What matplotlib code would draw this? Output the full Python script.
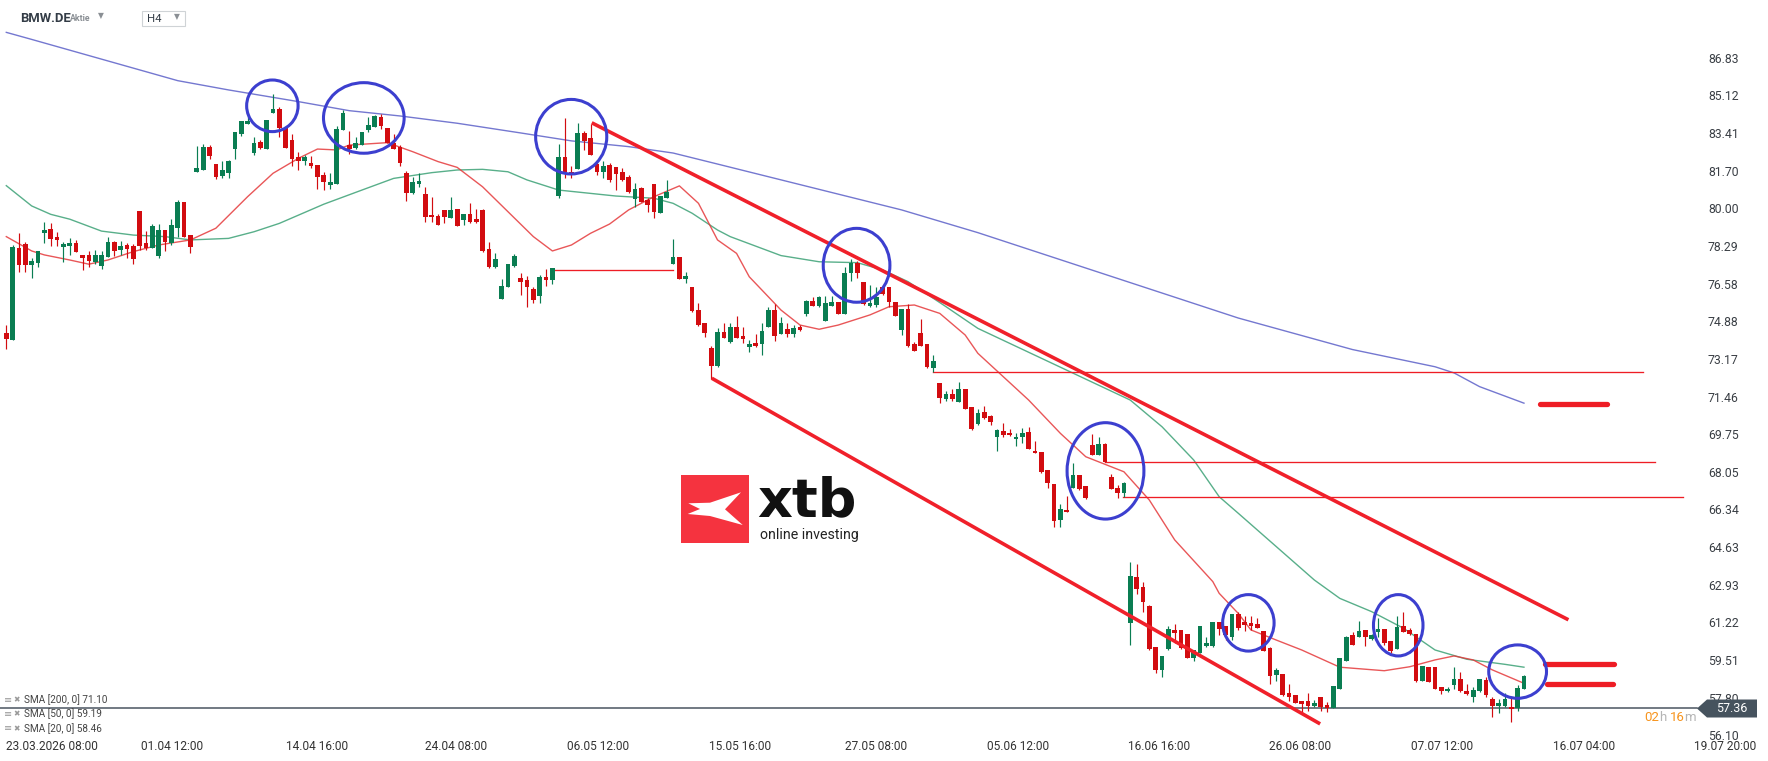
import matplotlib
matplotlib.use("Agg")
import matplotlib.pyplot as plt
from matplotlib.patches import Ellipse, Rectangle, Polygon
import numpy as np

W, H = 1768, 761

# ---------------- data ----------------
open_ = [74.33, 74.03, 78.21, 78.38, 77.43, 77.53, 78.89, 79.06, 78.71, 78.26,
         78.29, 78.42, 77.88, 77.88, 77.58, 77.40, 77.80, 78.47, 78.11, 78.33,
         78.29, 79.87, 78.42, 78.20, 77.85, 79.01, 78.44, 79.12, 80.28, 78.78,
         81.65, 81.73, 82.77, 82.00, 81.46, 81.61, 82.70, 83.38, 83.82, 82.52,
         83.00, 82.70, 84.33, 84.49, 83.63, 83.09, 82.32, 82.15, 82.05, 81.96,
         81.50, 81.07, 81.11, 83.54, 82.86, 82.74, 82.86, 83.54, 83.69, 84.13,
         83.63, 82.95, 82.77, 81.59, 80.67, 81.11, 80.64, 79.69, 79.64, 79.92,
         79.57, 79.96, 79.48, 79.74, 79.51, 79.92, 78.15, 77.35, 75.90, 76.44,
         77.39, 76.83, 76.74, 76.34, 76.03, 76.88, 76.76, 80.57, 82.32, 81.64,
         81.78, 83.41, 83.18, 82.00, 81.64, 81.96, 81.87, 81.64, 81.41, 80.42,
         80.91, 80.37, 81.10, 79.80, 80.46, 77.49, 77.80, 76.80, 76.43, 75.38,
         74.80, 73.68, 72.85, 74.39, 73.95, 74.63, 74.21, 73.72, 73.87, 73.84,
         74.63, 75.38, 74.30, 74.52, 74.31, 74.63, 75.19, 75.79, 75.58, 74.90,
         75.58, 75.75, 75.19, 77.05, 77.51, 76.65, 75.58, 75.61, 76.41, 76.43,
         75.75, 74.48, 75.41, 73.84, 74.34, 73.84, 72.77, 72.07, 71.37, 71.58,
         71.23, 71.80, 70.99, 70.22, 70.74, 70.58, 69.61, 69.88, 69.82, 69.52,
         69.61, 69.84, 68.99, 68.93, 68.13, 67.50, 65.86, 66.32, 67.30, 67.90,
         67.40, 69.26, 68.83, 69.31, 67.81, 67.31, 67.07, 61.21, 63.28, 62.81,
         61.97, 60.11, 59.05, 60.00, 60.88, 60.88, 60.70, 59.59, 59.85, 60.17,
         60.15, 61.24, 61.04, 60.58, 61.62, 61.26, 61.20, 61.15, 60.83, 60.05,
         58.85, 58.88, 58.04, 57.93, 57.66, 57.66, 57.43, 57.84, 57.48, 57.36,
         58.22, 59.49, 60.65, 60.58, 60.88, 60.47, 60.80, 60.92, 60.38, 60.03,
         61.06, 60.89, 60.70, 58.58, 59.22, 59.20, 58.27, 58.10, 58.39, 58.66,
         58.13, 57.83, 58.11, 58.61, 57.75, 57.45, 57.45, 57.37, 57.34, 58.19]
high = [74.71, 78.33, 78.86, 78.48, 77.73, 78.06, 79.39, 79.32, 78.91, 78.48,
        78.67, 78.56, 77.88, 78.06, 78.11, 78.06, 78.71, 78.52, 78.52, 78.41,
        78.38, 79.87, 78.97, 79.29, 79.29, 79.01, 79.51, 80.37, 80.30, 78.78,
        82.82, 82.91, 82.86, 82.00, 82.14, 82.18, 83.45, 83.95, 84.36, 83.23,
        83.09, 84.00, 85.18, 84.59, 83.63, 83.36, 82.55, 82.39, 82.36, 81.96,
        81.64, 81.59, 83.72, 84.45, 83.50, 83.23, 83.45, 84.13, 84.22, 84.27,
        83.63, 83.36, 82.86, 81.68, 81.41, 81.58, 80.97, 80.52, 79.73, 79.92,
        80.51, 79.96, 79.74, 80.23, 79.96, 79.96, 78.47, 77.97, 76.79, 77.49,
        77.94, 77.08, 76.92, 76.43, 76.97, 77.24, 77.29, 82.91, 84.09, 81.91,
        83.86, 83.50, 83.82, 82.18, 82.14, 82.05, 81.87, 81.82, 81.50, 81.14,
        80.96, 80.46, 81.10, 80.55, 81.28, 78.60, 77.80, 77.11, 76.43, 75.70,
        74.80, 73.77, 74.57, 74.78, 74.78, 75.11, 74.60, 74.02, 74.28, 74.78,
        75.52, 75.66, 75.05, 74.78, 74.70, 74.70, 75.84, 75.99, 76.02, 76.02,
        76.02, 75.75, 77.32, 77.70, 77.59, 76.65, 76.52, 76.43, 76.52, 76.43,
        75.75, 75.43, 75.64, 73.93, 74.98, 73.84, 73.34, 72.07, 71.71, 71.79,
        72.12, 71.80, 70.99, 70.90, 71.03, 70.62, 69.97, 70.25, 69.97, 69.79,
        70.03, 70.06, 69.43, 68.93, 68.13, 67.50, 66.57, 66.94, 68.43, 67.90,
        67.40, 69.76, 69.63, 69.37, 67.95, 67.44, 67.59, 63.95, 63.87, 63.05,
        62.00, 60.11, 59.70, 61.04, 61.13, 60.88, 60.70, 59.97, 61.06, 60.58,
        61.24, 61.24, 61.04, 61.62, 61.71, 61.51, 61.51, 61.41, 60.83, 60.12,
        59.14, 58.88, 58.45, 57.93, 57.66, 58.04, 57.70, 57.84, 57.62, 58.34,
        59.59, 60.61, 60.80, 61.30, 60.88, 60.70, 61.44, 60.92, 60.38, 61.51,
        61.69, 60.98, 60.70, 59.25, 59.22, 59.20, 58.27, 58.31, 59.19, 58.99,
        58.42, 58.27, 58.66, 58.76, 57.86, 57.74, 58.01, 57.86, 58.39, 58.85]
low = [73.63, 74.03, 77.12, 77.12, 76.85, 77.31, 78.44, 78.29, 78.29, 77.58,
       77.88, 78.03, 77.20, 77.31, 77.47, 77.26, 77.80, 77.84, 77.88, 77.76,
       77.47, 78.11, 78.11, 78.20, 77.76, 78.08, 78.33, 78.71, 78.70, 77.98,
       81.65, 81.73, 82.23, 81.34, 81.38, 81.38, 82.24, 83.29, 83.82, 82.42,
       82.70, 82.70, 84.33, 83.24, 82.74, 81.93, 81.75, 81.97, 81.82, 80.88,
       80.84, 80.88, 81.11, 83.54, 82.47, 82.70, 82.86, 83.45, 83.69, 83.59,
       82.95, 82.70, 81.93, 80.34, 80.63, 80.97, 79.39, 79.39, 79.25, 79.34,
       79.57, 79.21, 79.25, 79.34, 79.34, 78.03, 77.30, 77.30, 75.90, 76.44,
       77.35, 76.08, 75.54, 75.72, 75.72, 76.49, 76.58, 80.48, 81.38, 81.38,
       81.78, 82.64, 82.43, 81.50, 81.37, 81.19, 80.82, 81.23, 80.70, 80.07,
       80.28, 79.83, 79.57, 79.80, 80.46, 77.49, 76.80, 76.62, 75.31, 74.66,
       74.17, 72.27, 72.82, 74.13, 73.87, 74.10, 73.87, 73.50, 73.72, 73.36,
       74.63, 73.99, 74.30, 74.18, 74.14, 74.45, 75.11, 75.58, 75.53, 74.90,
       75.58, 75.20, 75.19, 76.70, 76.82, 75.61, 75.53, 75.53, 76.06, 75.53,
       75.13, 74.25, 73.72, 73.54, 73.77, 72.75, 72.59, 71.18, 71.28, 71.28,
       71.23, 70.90, 69.96, 70.17, 70.43, 70.17, 69.01, 69.61, 69.67, 69.23,
       69.34, 69.07, 68.89, 67.98, 67.33, 65.53, 65.56, 66.21, 67.30, 67.22,
       66.80, 68.80, 68.83, 68.51, 67.25, 66.88, 66.92, 60.20, 62.53, 61.71,
       59.97, 58.91, 58.76, 59.97, 60.27, 60.00, 59.59, 59.49, 59.82, 60.12,
       60.12, 60.65, 60.42, 60.42, 60.88, 60.85, 60.88, 60.98, 59.94, 58.42,
       58.58, 57.90, 57.66, 57.58, 57.13, 57.22, 57.40, 57.22, 57.18, 57.36,
       58.22, 59.49, 60.21, 60.58, 60.17, 60.42, 60.58, 60.20, 59.85, 60.03,
       60.80, 60.65, 58.54, 58.58, 58.54, 58.22, 57.98, 58.07, 58.22, 58.08,
       57.95, 57.63, 58.08, 57.86, 56.95, 57.13, 57.40, 56.72, 57.22, 58.19]
close = [74.06, 78.26, 77.43, 77.43, 77.61, 78.06, 79.01, 78.61, 78.56, 78.38,
         78.42, 78.03, 77.76, 77.62, 77.88, 77.88, 78.47, 78.08, 78.30, 78.15,
         77.70, 78.29, 78.20, 79.20, 79.01, 78.48, 79.24, 80.28, 78.71, 78.26,
         81.82, 82.77, 82.36, 81.43, 81.73, 82.15, 83.45, 83.95, 83.95, 82.95,
         82.74, 84.00, 84.49, 83.63, 82.74, 82.24, 82.15, 82.32, 81.93, 81.43,
         81.20, 81.19, 83.59, 84.33, 82.70, 82.95, 83.45, 83.77, 84.18, 83.72,
         82.95, 82.70, 82.06, 80.70, 81.19, 81.23, 79.58, 79.58, 79.25, 79.61,
         79.92, 79.21, 79.74, 79.39, 79.39, 78.07, 77.35, 77.70, 76.47, 77.49,
         77.85, 76.67, 76.44, 75.85, 76.88, 76.76, 77.29, 82.32, 81.66, 81.49,
         83.41, 83.05, 82.43, 81.66, 81.91, 81.28, 81.55, 81.28, 80.75, 80.87,
         80.28, 80.14, 79.83, 80.55, 80.73, 77.79, 76.80, 76.92, 75.35, 74.71,
         74.36, 72.85, 74.39, 74.13, 74.63, 74.10, 74.05, 73.84, 73.77, 74.43,
         75.38, 74.22, 74.78, 74.30, 74.58, 74.48, 75.79, 75.58, 75.96, 75.70,
         75.75, 75.20, 77.06, 77.51, 77.05, 75.66, 75.70, 75.97, 76.11, 75.73,
         75.13, 75.43, 73.75, 73.54, 73.77, 72.79, 73.07, 71.40, 71.58, 71.37,
         71.80, 70.90, 70.00, 70.70, 70.47, 70.32, 69.94, 69.73, 69.70, 69.61,
         69.79, 69.07, 68.89, 68.03, 67.53, 65.83, 66.36, 66.21, 67.90, 67.28,
         66.88, 68.80, 69.29, 68.51, 67.25, 67.07, 67.54, 63.34, 62.75, 62.16,
         60.02, 59.05, 59.70, 60.94, 60.76, 60.05, 59.59, 59.97, 61.06, 60.30,
         61.24, 60.91, 60.65, 61.62, 60.98, 61.11, 61.07, 60.98, 59.94, 58.81,
         59.08, 57.95, 57.86, 57.58, 57.54, 57.45, 57.57, 57.40, 57.36, 58.34,
         59.59, 60.56, 60.21, 60.85, 60.56, 60.65, 60.92, 60.29, 59.91, 61.02,
         60.80, 60.68, 58.58, 59.25, 58.54, 58.22, 58.11, 58.22, 58.66, 58.11,
         57.99, 58.14, 58.66, 57.93, 57.43, 57.57, 57.74, 57.31, 58.25, 58.79]

# moving averages, sampled along the drawn lines (candle index, price)
sma200_x = [0, 4, 27, 35, 46, 54, 62, 71, 81, 89, 98, 105, 112, 141, 153, 194, 212, 225, 228, 232, 239]
sma200_y = [87.97, 87.65, 85.78, 85.36, 84.83, 84.42, 84.18, 83.85, 83.41, 83.05, 82.79, 82.50,
            82.00, 79.92, 78.89, 75.02, 73.59, 72.81, 72.53, 71.91, 71.16]
sma50_x = [0, 4, 7, 10, 15, 20, 25, 29, 35, 39, 43, 50, 56, 61, 67, 71, 75, 79, 82, 87, 96, 102,
           105, 108, 112, 114, 122, 128, 134, 138, 142, 148, 153, 177, 182, 187, 191, 194, 206,
           210, 215, 220, 225, 230, 236, 239]
sma50_y = [81.02, 80.10, 79.72, 79.50, 78.96, 78.78, 78.71, 78.56, 78.63, 78.93, 79.31, 80.18,
           80.82, 81.35, 81.61, 81.73, 81.76, 81.65, 81.28, 80.82, 80.55, 80.45, 80.22, 79.77,
           79.01, 78.71, 77.85, 77.57, 77.53, 77.20, 76.67, 75.53, 74.55, 71.30, 70.09, 68.58,
           66.92, 66.17, 63.14, 62.31, 61.71, 60.96, 59.97, 59.55, 59.32, 59.19]
sma20_x = [0, 4, 6, 10, 13, 16, 20, 24, 29, 33, 38, 42, 46, 49, 52, 54, 60, 64, 68, 71, 75, 79,
           83, 86, 89, 92, 95, 98, 102, 106, 109, 112, 115, 117, 122, 125, 128, 131, 136, 139,
           143, 147, 151, 153, 161, 166, 170, 176, 180, 184, 190, 191, 194, 196, 200, 204, 210,
           217, 221, 225, 228, 231, 234, 239]
sma20_y = [78.71, 78.06, 77.88, 77.65, 77.46, 77.65, 78.03, 78.33, 78.56, 79.09, 80.52, 81.58,
           82.26, 82.68, 82.64, 82.86, 82.97, 82.56, 82.11, 81.85, 80.97, 79.84, 78.71, 78.06,
           78.33, 78.86, 79.28, 79.92, 80.52, 81.01, 80.22, 78.56, 77.95, 76.89, 75.38, 74.70,
           74.51, 74.70, 75.16, 75.53, 75.61, 75.23, 74.25, 73.42, 71.30, 69.79, 68.73, 68.05,
           66.77, 64.96, 63.07, 62.54, 61.63, 60.88, 60.42, 59.97, 59.19, 59.03, 59.21, 59.52,
           59.70, 59.52, 59.07, 58.46]

sma_legend = ["SMA [200, 0] 71.10", "SMA [50, 0] 59.19", "SMA [20, 0] 58.46"]
last_price = 57.36
countdown = [("02", "#f7941d"), ("h", "#b5b5b5"), ("16", "#f7941d"), ("m", "#b5b5b5")]

price_ticks = [86.83, 85.12, 83.41, 81.70, 80.00, 78.29, 76.58, 74.88, 73.17, 71.46, 69.75,
               68.05, 66.34, 64.63, 62.93, 61.22, 59.51, 57.80, 56.10]
date_labels = ["23.03.2026 08:00", "01.04 12:00", "14.04 16:00", "24.04 08:00", "06.05 12:00",
               "15.05 16:00", "27.05 08:00", "05.06 12:00", "16.06 16:00", "26.06 08:00",
               "07.07 12:00", "16.07 04:00", "19.07 20:00"]
date_pos = [-0.1, 26.1, 48.9, 70.8, 93.2, 115.5, 137.0, 159.3, 181.5, 203.7, 226.1, 248.4, 270.7]

# drawn analysis objects (candle index / price)
channel_upper = [(92.2, 83.87), (246.0, 61.34)]
channel_lower = [(111.1, 72.29), (206.9, 56.62)]
levels_thin = [(86.4, 105.0, 77.18), (146.0, 257.7, 72.57), (173.1, 259.7, 68.48), (175.9, 264.0, 66.89)]
levels_thick = [(241.6, 252.1, 71.11), (242.3, 253.1, 59.32), (242.6, 253.0, 58.41)]
circles = [(41.9, 84.64, 8.1, 2.34), (56.3, 84.09, 12.7, 3.20), (88.96, 83.24, 11.2, 3.38),
           (133.9, 77.41, 10.5, 3.35), (173.1, 68.09, 12.1, 4.37), (195.6, 61.20, 8.1, 2.56),
           (219.2, 61.09, 7.8, 2.78), (238.0, 58.99, 9.1, 2.42)]

# ---------------- figure ----------------
GREEN = "#0a7d52"
RED = "#d20c10"
fig = plt.figure(figsize=(W / 100, H / 100), dpi=100)
fig.patch.set_facecolor("white")
ax_bottom_px = 738
ax = fig.add_axes([0, (H - ax_bottom_px) / H, 1, ax_bottom_px / H])
ax.set_xlim(-0.992, 277.43)
ax.set_ylim(55.98, 89.437)
for s in ax.spines.values():
    s.set_visible(False)

o = np.array(open_); c = np.array(close); hi = np.array(high); lo = np.array(low)
idx = np.arange(len(o))
up = c >= o
cols = np.where(up, GREEN, RED)
ax.vlines(idx, lo, hi, colors=cols, linewidth=0.85, zorder=3)
body_bot = np.minimum(o, c)
body_h = np.maximum(np.abs(c - o), 0.06)
ax.bar(idx, body_h, bottom=body_bot, width=0.74, color=cols, linewidth=0, zorder=4)

ax.plot(sma200_x, sma200_y, color="#5c60c8", lw=1.0, alpha=0.85, zorder=2)
ax.plot(sma50_x, sma50_y, color="#2f9b6d", lw=1.0, alpha=0.8, zorder=2)
ax.plot(sma20_x, sma20_y, color="#e5393b", lw=1.0, alpha=0.85, zorder=2)

for (x0, y0), (x1, y1) in [channel_upper, channel_lower]:
    ax.plot([x0, x1], [y0, y1], color="#f0202a", lw=2.6, solid_capstyle="butt", zorder=5)
for x0, x1, y in levels_thin:
    ax.plot([x0, x1], [y, y], color="#ee1d25", lw=0.95, zorder=2)
for x0, x1, y in levels_thick:
    ax.plot([x0, x1], [y, y], color="#ee1d25", lw=3.8, solid_capstyle="round", zorder=5)
for cx, cy, w, h in circles:
    ax.add_patch(Ellipse((cx, cy), w, h, fill=False, edgecolor="#3c3fcf", lw=2.2, zorder=6))

# current price line
ax.axhline(last_price, xmin=0, xmax=1697 / W, color="#4a5560", lw=1.1, zorder=1)

# axes ticks
ax.yaxis.tick_right()
ax.set_yticks(price_ticks, [f"{v:.2f}" for v in price_ticks])
ax.tick_params(axis="y", length=0, pad=-43.2, labelsize=8.8, labelcolor="#3a3f45")
for t in ax.get_yticklabels():
    t.set_fontfamily(["Roboto", "DejaVu Sans"])
ax.set_xticks(date_pos, date_labels)
ax.tick_params(axis="x", length=0, pad=1.5, labelsize=8.6, labelcolor="#333333")
for i, t in enumerate(ax.get_xticklabels()):
    t.set_fontfamily(["Liberation Sans Narrow", "Roboto", "DejaVu Sans"])
    if i == 0:
        t.set_horizontalalignment("left")


def fx(x):
    return x / W


def fy(y):
    return 1 - y / H


# price tag
tag = Polygon([(fx(1697), fy(708.5)), (fx(1707), fy(699.5)), (fx(1757), fy(699.5)),
               (fx(1757), fy(717.5)), (fx(1707), fy(717.5))], closed=True,
              transform=fig.transFigure, facecolor="#46535e", edgecolor="none", zorder=10)
fig.patches.append(tag)
fig.text(fx(1732), fy(709), f"{last_price:.2f}", color="white", fontsize=9, ha="center",
         va="center", family=["Roboto", "DejaVu Sans"], zorder=11)

# countdown "02h 16m" : pieces laid out right-to-left ending just before the tag
renderer = fig.canvas.get_renderer()
xr = 1696.0
for k, (txt, col) in enumerate(reversed(countdown)):
    tt = fig.text(fx(xr), fy(717.5), txt, color=col, fontsize=9.5, ha="right", va="center",
                  family=["Roboto", "DejaVu Sans"], zorder=11)
    wpx = tt.get_window_extent(renderer).width
    xr -= wpx + (3.5 if txt == "16" else -0.3)

# header
fig.text(fx(20), fy(18), "BMW.DE", fontsize=9.4, fontweight="bold", color="#333c46",
         ha="left", va="center", family=["Roboto", "DejaVu Sans"])
fig.text(fx(70), fy(18.5), "Aktie", fontsize=6.3, fontweight="bold", color="#8a8f94",
         ha="left", va="center", family=["Roboto", "DejaVu Sans"])
fig.text(fx(101), fy(16), "▼", fontsize=5.5, color="#8a8f94", ha="center", va="center",
         family="DejaVu Sans")
box = Rectangle((fx(141.5), fy(25.5)), fx(184.5) - fx(141.5), fy(11) - fy(25.5),
                transform=fig.transFigure, facecolor="white", edgecolor="#cfd3d6", lw=0.8)
fig.patches.append(box)
fig.text(fx(147), fy(19.5), "H4", fontsize=8.2, color="#333c46", ha="left", va="center",
         family=["Roboto", "DejaVu Sans"])
fig.text(fx(176.5), fy(16.5), "▼", fontsize=5.5, color="#8a8f94", ha="center", va="center",
         family="DejaVu Sans")

# SMA legend
for k, (lab, yy) in enumerate(zip(sma_legend, [700, 714, 728.5])):
    fig.text(fx(4), fy(yy), "≡", fontsize=7, color="#9a9a9a", ha="left", va="center",
             family="DejaVu Sans")
    fig.text(fx(13), fy(yy), "✖", fontsize=5.5, color="#9a9a9a", ha="left", va="center",
             family="DejaVu Sans")
    fig.text(fx(24), fy(yy), lab, fontsize=7.2, color="#444444", ha="left", va="center",
             family=["Liberation Sans Narrow", "Roboto", "DejaVu Sans"])

# xtb logo
sq = Rectangle((fx(681), fy(543)), fx(749) - fx(681), fy(475) - fy(543),
               transform=fig.transFigure, facecolor="#f5333f", edgecolor="none", zorder=8)
fig.patches.append(sq)
xshape = [(688.3, 503.3), (710, 502.7), (741, 492.3), (725, 509.3), (742.7, 525),
          (710, 516), (687.7, 514), (700, 509)]
fig.patches.append(Polygon([(fx(a), fy(b)) for a, b in xshape], closed=True,
                           transform=fig.transFigure, facecolor="white", edgecolor="none", zorder=9))
t_xtb = fig.text(fx(757), fy(516.5), "xtb", fontsize=39, fontweight="heavy", color="#111111",
                 ha="left", va="baseline", family="DejaVu Sans", zorder=9)
xtb_bottom = H - t_xtb.get_window_extent(renderer).y0
fig.text(fx(760), fy(xtb_bottom + 0.8), "online investing", fontsize=10.2, color="#222222",
         ha="left", va="top", family=["Roboto", "DejaVu Sans"], zorder=9)

fig.savefig("out.png", dpi=100, facecolor="white")
